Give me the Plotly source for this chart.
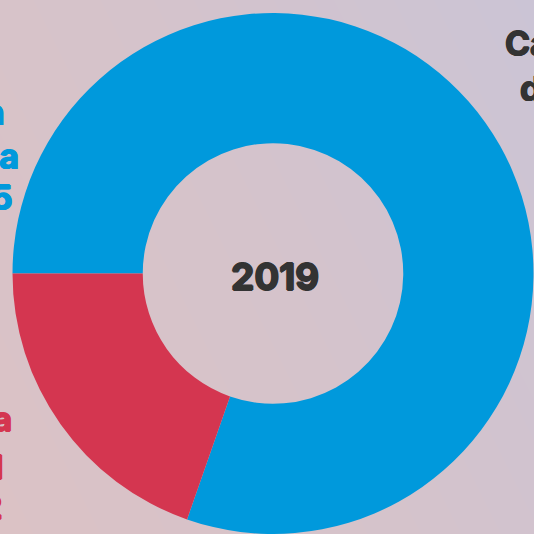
import plotly.graph_objects as go

# ---- data ----
regions = ["América", "Europa y Asia"]
amounts = [1235, 302]
slice_colors = ["#0099dc", "#d43650"]
center_label = "2019"
blue_lines = ["Ventas en", "América", "US$ 1.235"]
red_lines = ["Europa y Asia", "Resto global", "US$ 302"]
title_lines = ["Cantidad", "de ventas"]

W = H = 534
FONT = "Inter, Lato, sans-serif"
DARK = "#333333"


def px_x(v):
    return v / W


def px_y(v):
    return 1 - v / H


def heavy(color, d=0.8):
    return (f"{d}px 0 0 {color}, -{d}px 0 0 {color}, "
            f"0 {d}px 0 {color}, 0 -{d}px 0 {color}")


fig = go.Figure()

# gradient background (pink -> lavender towards top right)
gx = [0, 1]
gy = [0, 1]
gz = [[0.0, 0.8], [0.4, 1.2]]
fig.add_trace(go.Heatmap(
    x=gx, y=gy, z=gz, zsmooth="best", showscale=False, hoverinfo="skip",
    colorscale=[[0, "#dbc2c5"], [0.5, "#d5c3cb"], [1, "#cbc4d5"]],
))

fig.add_trace(go.Pie(
    labels=regions, values=amounts, hole=0.5, sort=False,
    direction="clockwise", rotation=270,
    marker=dict(colors=slice_colors, line=dict(width=0)),
    textinfo="none", hoverinfo="label+value", showlegend=False,
    domain=dict(x=[12 / W, 1], y=[0, 1 - 13 / H]),
))

ann = []
ann.append(dict(text=f"<b>{center_label}</b>", x=px_x(275), y=px_y(276),
                font=dict(size=37, color=DARK, family=FONT, weight=900,
                          shadow=heavy(DARK, 0.9))))

blue_y = [112, 156, 197]
blue_right = [7, 21, 15]
for t, yy, xr in zip(blue_lines, blue_y, blue_right):
    ann.append(dict(text=f"<b>{t}</b>", x=px_x(xr), y=px_y(yy), xanchor="right",
                    height=36,
                    font=dict(size=34, color=slice_colors[0], family=FONT, weight=900,
                              shadow=heavy(slice_colors[0]))))

red_y = [419, 467, 507]
red_right = [14, 5, 5]
for t, yy, xr in zip(red_lines, red_y, red_right):
    ann.append(dict(text=f"<b>{t}</b>", x=px_x(xr), y=px_y(yy), xanchor="right",
                    height=34,
                    font=dict(size=33, color=slice_colors[1], family=FONT, weight=900,
                              shadow=heavy(slice_colors[1]))))

title_y = [43, 88]
title_left = [503, 518]
for t, yy, xl in zip(title_lines, title_y, title_left):
    ann.append(dict(text=f"<b>{t}</b>", x=px_x(xl), y=px_y(yy), xanchor="left",
                    height=36,
                    font=dict(size=34, color=DARK, family=FONT, weight=900,
                              shadow=heavy(DARK))))

for a in ann:
    a.update(xref="paper", yref="paper", showarrow=False, yanchor="middle")

fig.update_layout(
    width=W, height=H, margin=dict(l=0, r=0, t=0, b=0),
    paper_bgcolor="#d7c3c9", plot_bgcolor="#d7c3c9",
    xaxis=dict(visible=False, range=[0, 1], domain=[0, 1], fixedrange=True),
    yaxis=dict(visible=False, range=[0, 1], domain=[0, 1], fixedrange=True),
    annotations=ann,
)

fig.write_html(
    "out.html",
    config={"displayModeBar": False},
    post_script="document.body.style.margin='0';document.body.style.overflow='hidden';",
)
